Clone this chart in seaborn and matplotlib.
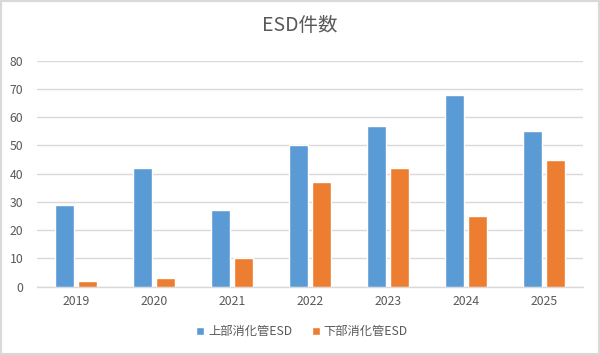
import numpy as np
import pandas as pd
import matplotlib
matplotlib.use("Agg")
import matplotlib.pyplot as plt
import seaborn as sns
from matplotlib.patches import Rectangle

# data
years = ["2019", "2020", "2021", "2022", "2023", "2024", "2025"]
upper_esd = [29, 42, 27, 50, 57, 68, 55]
lower_esd = [2, 3, 10, 37, 42, 25, 45]
series_names = ["上部消化管ESD", "下部消化管ESD"]
colors = ["#5B9BD5", "#ED7D31"]

df = pd.DataFrame({
    "year": years * 2,
    "count": upper_esd + lower_esd,
    "series": [series_names[0]] * len(years) + [series_names[1]] * len(years),
})

sns.set_style("white")
plt.rcParams["font.family"] = ["Noto Sans CJK JP", "DejaVu Sans"]

fig = plt.figure(figsize=(6, 3.55), dpi=100)
ax = fig.add_axes([0.0617, 0.1924, 0.91, 0.6367])

sns.barplot(data=df, x="year", y="count", hue="series", palette=colors,
            width=0.59, gap=0.2, saturation=1, ax=ax, zorder=3)

ax.set_ylim(0, 80)
ax.set_yticks(range(0, 81, 10))
ax.set_xlim(-0.5, len(years) - 0.5)
ax.yaxis.grid(True, color="#D9D9D9", linewidth=1, zorder=0)
ax.set_axisbelow(True)
for side in ["top", "right", "left"]:
    ax.spines[side].set_visible(False)
ax.spines["bottom"].set_color("#D9D9D9")
ax.spines["bottom"].set_linewidth(1)
ax.tick_params(axis="both", length=0, labelsize=8.8, labelcolor="#595959")
ax.tick_params(axis="y", pad=10)
ax.tick_params(axis="x", pad=6)
ax.set_xlabel("")
ax.set_ylabel("")

fig.text(0.5, 0.927, "ESD件数", ha="center", va="center",
         fontsize=14, color="#595959")

handles, labels = ax.get_legend_handles_labels()
ax.legend_.remove()
fig.legend(handles, labels, loc="center", bbox_to_anchor=(0.503, 0.0656),
           ncol=2, frameon=False, fontsize=8.8, labelcolor="#595959",
           handlelength=0.7, handleheight=0.7, handletextpad=0.3,
           columnspacing=1.6)

fig.patches.append(Rectangle((0, 0), 1, 1, transform=fig.transFigure,
                             fill=False, edgecolor="#D9D9D9", linewidth=3))

fig.savefig("out.png", dpi=100)
